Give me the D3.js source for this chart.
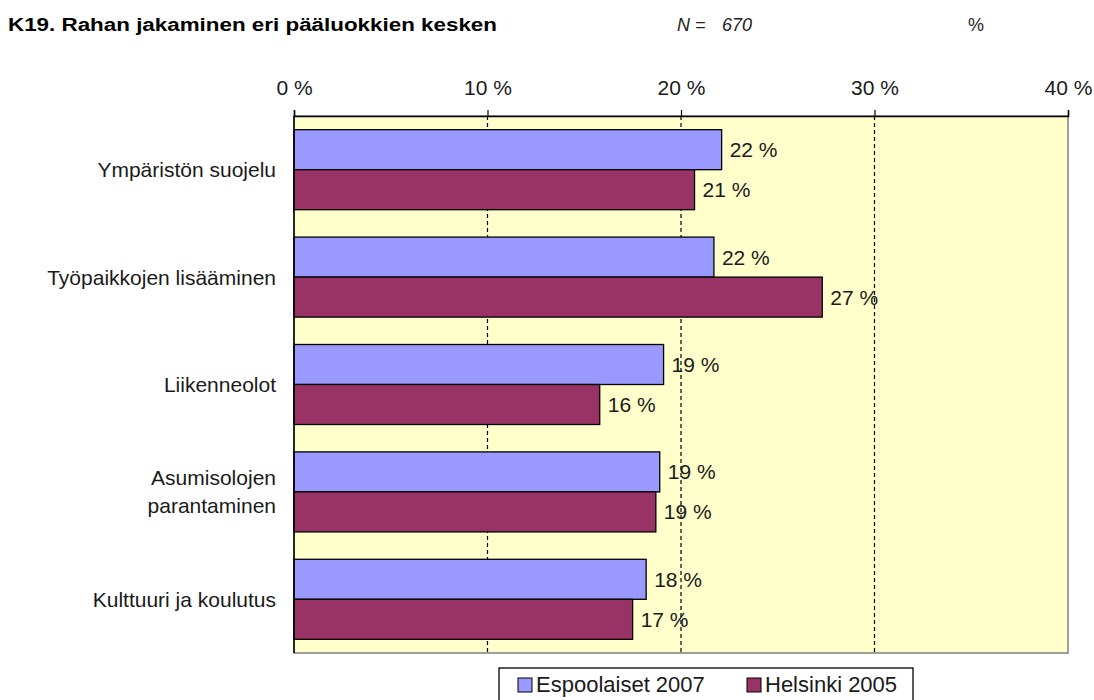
<!DOCTYPE html>
<html>
<head>
<meta charset="utf-8">
<script src="https://cdn.jsdelivr.net/npm/d3@7"></script>
<style>
  html, body { margin: 0; padding: 0; background: #fff; }
  svg { display: block; font-family: "Liberation Sans", Arial, sans-serif; }
</style>
</head>
<body>
<svg id="chart" width="1094" height="700"></svg>
<script>
const categories = ["Ympäristön suojelu", "Työpaikkojen lisääminen", "Liikenneolot", "Asumisolojen\nparantaminen", "Kulttuuri ja koulutus"];
const seriesNames = ["Espoolaiset 2007", "Helsinki 2005"];
const espoo2007 = [22.1, 21.7, 19.1, 18.9, 18.2];
const helsinki2005 = [20.7, 27.3, 15.8, 18.7, 17.5];
const labelsEspoo = ["22 %", "22 %", "19 %", "19 %", "18 %"];
const labelsHelsinki = ["21 %", "27 %", "16 %", "19 %", "17 %"];
const xTicks = [0, 10, 20, 30, 40];
const colors = ["#9999FF", "#993366"];

(function () {
const svg = d3.select("#chart");
const pL = 294, pR = 1068, pT = 116, pB = 653;
const txt = "#1a1a1a";

const x = d3.scaleLinear().domain([0, 40]).range([pL, pR]);
const y = d3.scaleBand().domain(categories).range([pT, pB]).paddingInner(0.255).paddingOuter(0.1275);
const ySub = d3.scaleBand().domain([0, 1]).range([0, y.bandwidth()]);

// title
svg.append("text").attr("x", 8).attr("y", 31).attr("font-size", 18).attr("font-weight", "bold")
  .attr("textLength", 489).attr("lengthAdjust", "spacingAndGlyphs")
  .text("K19. Rahan jakaminen eri pääluokkien kesken");
svg.append("text").attr("x", 677).attr("y", 31).attr("font-size", 18).attr("font-style", "italic")
  .attr("fill", "#222").text("N =");
svg.append("text").attr("x", 722).attr("y", 31).attr("font-size", 18).attr("font-style", "italic")
  .attr("fill", "#222").text("670");
svg.append("text").attr("x", 968).attr("y", 31).attr("font-size", 18).attr("fill", "#222").text("%");

// plot background
svg.append("rect").attr("x", pL).attr("y", pT).attr("width", pR - pL).attr("height", pB - pT)
  .attr("fill", "#FFFFCC").attr("stroke", "#808080").attr("stroke-width", 1.5);

// grid
svg.append("g").selectAll("line").data(xTicks.filter(t => t > 0 && t < 40)).join("line")
  .attr("x1", d => x(d)).attr("x2", d => x(d)).attr("y1", pT).attr("y2", pB)
  .attr("stroke", "#000").attr("stroke-width", 1.2).attr("stroke-dasharray", "4,3");

// bars
const data = categories.map((c, i) => ({ c, vals: [espoo2007[i], helsinki2005[i]], labs: [labelsEspoo[i], labelsHelsinki[i]] }));
const g = svg.append("g").selectAll("g").data(data).join("g")
  .attr("transform", d => `translate(0,${y(d.c)})`);
g.selectAll("rect").data(d => d.vals.map((v, k) => ({ v, k }))).join("rect")
  .attr("x", x(0)).attr("y", d => ySub(d.k)).attr("width", d => x(d.v) - x(0)).attr("height", ySub.bandwidth())
  .attr("fill", d => colors[d.k]).attr("stroke", "#000").attr("stroke-width", 1.3);
g.selectAll("text").data(d => d.vals.map((v, k) => ({ v, k, lab: d.labs[k] }))).join("text")
  .attr("x", d => x(d.v) + 8).attr("y", d => ySub(d.k) + ySub.bandwidth() / 2).attr("dy", "0.36em")
  .attr("font-size", 21).attr("fill", txt).text(d => d.lab);

// top axis
const axis = d3.axisTop(x).tickValues(xTicks).tickFormat(d => d + " %").tickSize(6).tickPadding(15);
const ax = svg.append("g").attr("transform", `translate(0,${pT})`).call(axis);
ax.select(".domain").attr("stroke", "#000").attr("stroke-width", 1.5);
ax.selectAll(".tick line").attr("stroke", "#000").attr("stroke-width", 1.2);
ax.selectAll(".tick text").attr("font-size", 21).attr("font-family", "Liberation Sans, Arial, sans-serif").attr("fill", txt);

// left axis line
svg.append("line").attr("x1", pL).attr("x2", pL).attr("y1", pT).attr("y2", pB)
  .attr("stroke", "#000").attr("stroke-width", 1.5);

// category labels
categories.forEach(c => {
  const lines = c.split("\n");
  const cy = y(c) + y.bandwidth() / 2;
  const t = svg.append("text").attr("text-anchor", "end").attr("font-size", 21).attr("fill", txt);
  lines.forEach((ln, i) => {
    t.append("tspan").attr("x", 276).attr("y", cy + (i - (lines.length - 1) / 2) * 28).attr("dy", "0.36em").text(ln);
  });
});

// legend
const lg = svg.append("g");
lg.append("rect").attr("x", 499).attr("y", 668).attr("width", 414).attr("height", 40)
  .attr("fill", "#fff").attr("stroke", "#000").attr("stroke-width", 1.3);
const legX = [518, 747];
seriesNames.forEach((s, i) => {
  lg.append("rect").attr("x", legX[i]).attr("y", 678).attr("width", 14).attr("height", 14)
    .attr("fill", colors[i]).attr("stroke", "#000").attr("stroke-width", 1);
  lg.append("text").attr("x", legX[i] + 18).attr("y", 692).attr("font-size", 22).attr("fill", txt).text(s);
});
})();
</script>
</body>
</html>
